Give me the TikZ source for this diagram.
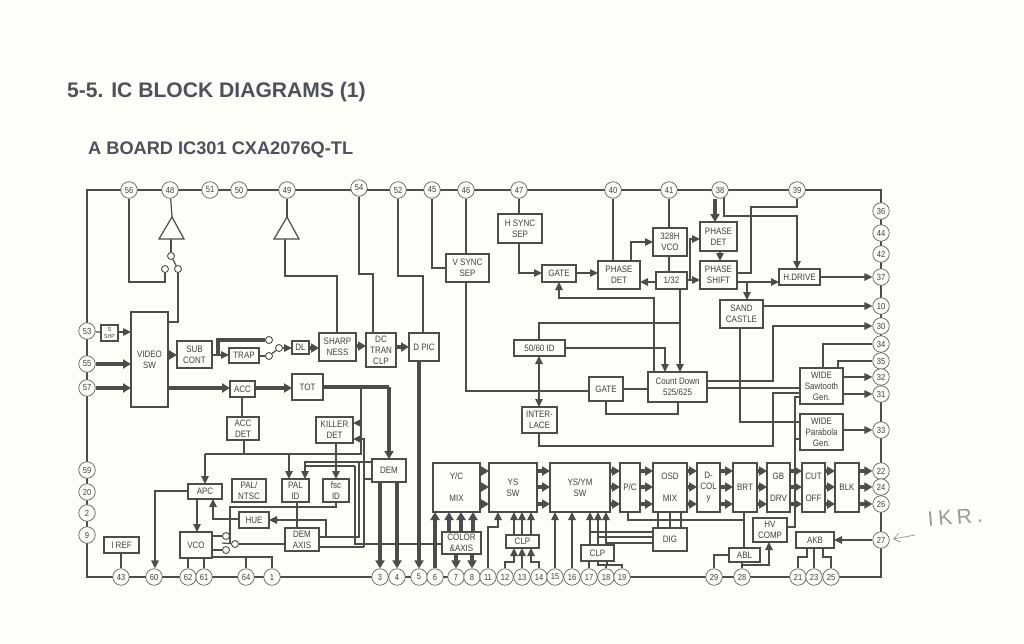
\documentclass[tikz,border=0pt]{standalone}
\usepackage{fontspec}
\usetikzlibrary{arrows.meta,backgrounds}
\setmainfont{Liberation Sans}
\newfontfamily\blkfont[FakeStretch=0.86]{Liberation Sans}
\newfontfamily\handfont[LetterSpace=22]{Liberation Sans}
\definecolor{ink}{HTML}{4C4C4C}
\definecolor{txt}{HTML}{404040}
\definecolor{paper}{HTML}{FDFEFA}
\definecolor{headc}{HTML}{50505A}
\tikzset{
 blk/.style={draw=ink,line width=1.2pt,fill=paper,text=txt,inner sep=0pt,outer sep=0pt,align=center,
   font=\blkfont\fontsize{9.3}{11}\selectfont},
 pinnode/.style={circle,draw=ink!90,line width=0.7pt,fill=paper,text=txt,inner sep=0pt,minimum size=16.5pt,
   font=\blkfont\fontsize{8.8}{10}\selectfont},
 swc/.style={circle,draw=ink,line width=0.9pt,fill=paper,inner sep=0pt,minimum size=7pt},
 wire/.style={draw=ink,line width=1.2pt},
 fatwire/.style={draw=ink,line width=3.2pt},
 arw/.style={wire,-{Triangle[length=8pt,width=7.5pt]}},
 fatarw/.style={fatwire,-{Triangle[length=8pt,width=9pt]}},
 amp/.style={draw=ink,line width=1.2pt,fill=paper},
 hand/.style={draw=gray!85,line width=0.7pt}
}
\newcommand{\blk}[6]{\node[blk,minimum width={(#4-#2)*1pt},minimum height={(#5-#3)*1pt}] (#1) at ({(#2+#4)/2},{(#3+#5)/2}) {#6};}
\newcommand{\pinn}[3]{\node[pinnode] (p#1) at (#2,#3) {#1};}
\begin{document}
\begin{tikzpicture}[x=1pt,y=-1pt]
\useasboundingbox (0,0) rectangle (1024,643);
% headings
\node[anchor=west,inner sep=0pt,text=headc,font=\fontsize{21.1}{24}\selectfont\bfseries] (title) at (67,92) {5-5. IC BLOCK DIAGRAMS (1)};
\node[anchor=west,inner sep=0pt,text=headc,font=\fontsize{18.2}{20}\selectfont\bfseries] (sub) at (88,150) {A BOARD IC301 CXA2076Q-TL};
% pins
\foreach \n/\x in {56/129,48/170,51/210,50/239,49/287,52/398,45/432,46/466,47/519,40/613,41/669,38/720,39/797}{\pinn{\n}{\x}{190}}
\pinn{54}{359}{188}
\foreach \n/\y in {36/211,44/233,42/254,37/277,10/306,30/326,34/344,35/361,32/377,31/394,33/430,22/471,24/487,26/504,27/540}{\pinn{\n}{881}{\y}}
\foreach \n/\y in {53/331,55/364,57/388,59/470,20/492,2/513,9/535}{\pinn{\n}{87}{\y}}
\foreach \n/\x in {43/121,60/154,62/188,61/204,64/246,1/272,3/380,4/397,5/419,6/435,7/456,8/472,11/488,12/505,13/522,14/539,15/555,16/572,17/589,18/606,19/622,29/714,28/742,21/798,23/814,25/831}{\pinn{\n}{\x}{577}}
% blocks
\node[blk,minimum width=17pt,minimum height=16pt,font=\blkfont\fontsize{6}{6.5}\selectfont] (sshp) at (109.5,333) {S\\SHP};
\blk{video}{131}{312}{168}{407}{VIDEO\\SW}
\blk{subc}{177}{341}{212}{368}{SUB\\CONT}
\blk{trap}{229}{348}{259}{363}{TRAP}
\blk{dl}{292}{341}{309}{354}{DL}
\blk{sharp}{319}{333}{356}{361}{SHARP\\NESS}
\blk{dctran}{366}{333}{396}{367}{DC\\TRAN\\CLP}
\blk{dpic}{409}{333}{439}{361}{D PIC}
\blk{acc}{230}{381}{255}{397}{ACC}
\blk{tot}{292}{374}{323}{400}{TOT}
\blk{accdet}{227}{417}{259}{440}{ACC\\DET}
\blk{killer}{316}{417}{353}{443}{KILLER\\DET}
\blk{dem}{372}{459}{406}{482}{DEM}
\blk{palntsc}{232}{479}{266}{502}{PAL/\\NTSC}
\blk{palid}{282}{479}{309}{502}{PAL\\ID}
\blk{fscid}{323}{479}{349}{502}{fsc\\ID}
\blk{apc}{188}{484}{222}{499}{APC}
\blk{hue}{239}{512}{269}{528}{HUE}
\blk{vco}{180}{532}{212}{558}{VCO}
\blk{demaxis}{285}{528}{319}{551}{DEM\\AXIS}
\blk{iref}{104}{537}{139}{553}{I REF}
\blk{vsync}{446}{254}{489}{282}{V SYNC\\SEP}
\blk{hsync}{498}{214}{542}{243}{H SYNC\\SEP}
\blk{gateu}{542}{265}{576}{282}{GATE}
\blk{pdeta}{598}{261}{640}{289}{PHASE\\DET}
\blk{hvco}{653}{228}{687}{256}{328H\\VCO}
\blk{div}{656}{272}{687}{289}{1/32}
\blk{id5060}{514}{340}{565}{356}{50/60 ID}
\blk{gatel}{589}{377}{623}{401}{GATE}
\blk{count}{648}{372}{707}{402}{Count Down\\525/625}
\blk{inter}{522}{407}{557}{433}{INTER-\\LACE}
\blk{pdetb}{700}{222}{737}{251}{PHASE\\DET}
\blk{pshift}{700}{261}{737}{289}{PHASE\\SHIFT}
\blk{hdrive}{779}{269}{820}{285}{H.DRIVE}
\blk{sand}{720}{300}{763}{328}{SAND\\CASTLE}
\blk{saw}{800}{368}{843}{404}{WIDE\\Sawtooth\\Gen.}
\blk{para}{800}{414}{843}{450}{WIDE\\Parabola\\Gen.}
\blk{ycmix}{433}{463}{480}{512}{Y/C\\[11pt]MIX}
\blk{yssw}{489}{463}{537}{512}{YS\\SW}
\blk{ysym}{550}{463}{610}{512}{YS/YM\\SW}
\blk{pc}{620}{463}{640}{512}{P/C}
\blk{osd}{653}{463}{687}{512}{OSD\\[11pt]MIX}
\blk{dcol}{697}{463}{720}{512}{D-\\COL\\y}
\blk{brt}{733}{463}{757}{512}{BRT}
\blk{gbdrv}{767}{463}{790}{512}{GB\\[11pt]DRV}
\blk{cut}{802}{463}{825}{512}{CUT\\[11pt]OFF}
\blk{blkk}{835}{463}{859}{512}{BLK}
\blk{color}{442}{532}{481}{554}{COLOR\\\&AXIS}
\blk{clpa}{506}{535}{539}{548}{CLP}
\blk{clpb}{581}{545}{614}{561}{CLP}
\blk{dig}{653}{528}{687}{551}{DIG}
\blk{hv}{753}{518}{787}{542}{HV\\COMP}
\blk{abl}{729}{548}{760}{562}{ABL}
\blk{akb}{796}{532}{834}{548}{AKB}
% switches
\node[swc] (sa) at (171,256) {};
\node[swc] (sb) at (165,269) {};
\node[swc] (sc) at (178,269) {};
\node[swc] (ta) at (269,340) {};
\node[swc] (tb) at (269,356) {};
\node[swc] (tc) at (279,348) {};
\node[swc] (va) at (226,536) {};
\node[swc] (vb) at (226,550) {};
\node[swc] (vc) at (235,544) {};
% amplifiers
\draw[amp] (172,217) -- (184,239) -- (159,239) -- cycle;
\draw[amp] (287,217) -- (299,239) -- (274,239) -- cycle;
\coordinate (ampa) at (172,217); \coordinate (ampab) at (171,239);
\coordinate (ampb) at (287,217); \coordinate (ampbb) at (285,239);
% handwriting
\node[text=gray!80,rotate=5,font=\handfont\fontsize{21}{24}\selectfont] (ikr) at (955,517) {IKR.};
\coordinate (ikrs) at (915,535); \coordinate (ikre) at (893,539);
\draw[hand,-{Straight Barb[length=6pt,width=9pt]}] (ikrs) -- (ikre);
\begin{scope}[on background layer]
\fill[paper] (0,0) rectangle (1024,643);
% frame
\draw[wire,line width=1.5pt] (p53 |- p56) -- (p36 |- p56) -- (p36 |- p1) -- (p53 |- p1) -- cycle;
% input side
\draw[wire] (p53) -- (sshp);
\draw[arw] (sshp.east |- 0,332) -- (video.west |- 0,332);
\draw[fatarw] (p55.east) -- (video.west |- p55);
\draw[fatarw] (p57.east) -- (video.west |- p57);
\draw[fatarw] (video.east |- 0,355) -- (subc.west |- 0,355);
\draw[fatarw] (video.east |- 0,388) -- (acc.west |- 0,388);
\draw[fatarw] (acc.east |- 0,388) -- (tot.west |- 0,388);
\draw[wire] (video.east |- 0,322) -| (sc);
\draw[wire] (sb) |- (129,282) -- (p56);
\draw[wire] (sa) -- (ampab);
\draw[wire] (sa) -- (sc);
\draw[wire] (ampa) -- (p48);
% sub cont / trap
\draw[arw] (subc.east |- 0,355) -- (trap.west |- 0,355);
\draw[fatwire] (218,355) -- (218,340) -- (ta);
\draw[wire] (trap.east |- tb) -- (tb);
\draw[wire] (tb) -- (tc);
\draw[arw] (tc) -- (dl.west |- tc);
\draw[fatarw] (dl.east |- 0,348) -- (sharp.west |- 0,348);
\draw[fatarw] (sharp.east |- 0,346) -- (dctran.west |- 0,346);
\draw[fatarw] (dctran.east |- 0,347) -- (dpic.west |- 0,347);
\draw[wire] (337,333) -- (337,276) -- (285,276) -- (ampbb);
\draw[wire] (ampb) -- (p49);
\draw[wire] (p54) |- (359,274) -- (373,274) -- (dctran.north -| 373,0);
\draw[wire] (p52) -- (398,276) -- (423,276) -- (dpic.north -| 423,0);
\draw[fatarw] (dpic.south -| p5) -- (p5.north);
% chroma left
\draw[wire] (acc.south -| 242,0) -- (accdet.north -| 242,0);
\draw[fatwire] (tot.east |- 0,387) -- (389,387);
\draw[fatarw] (389,387) -- (dem.north -| 389,0);
\draw[wire] (361,387) -- (361,454) -- (205,454);
\draw[arw] (205,454) -- (apc.north -| 205,0);
\draw[arw] (361,423) -- (killer.east |- 0,423);
\draw[wire] (accdet.south -| 244,0) -- (244,454);
\draw[arw] (289,454) -- (palid.north -| 289,0);
\draw[arw] (killer.south -| 336,0) -- (fscid.north -| 336,0);
\draw[arw] (364,547) -- (364,439) -- (killer.east |- 0,439);
\draw[wire] (demaxis.east |- 0,547) -- (364,547);
\draw[wire] (dem.west |- 0,479) -- (364,479);
\draw[wire] (355,466) -- (305,466);
\draw[wire] (355,466) -- (355,544) -- (color.west |- 0,544);
\draw[wire] (dem.west |- 0,462) -- (359,462) -- (359,537) -- (demaxis.east |- 0,537);
\draw[arw] (dem.west |- 0,462) -- (305,462) -- (palid.north -| 305,0);
\draw[arw] (326,537) -- (326,520) -- (hue.east |- 0,520);
\draw[wire] (palid.south -| 297,0) -- (demaxis.north -| 297,0);
\draw[fatarw] (dem.south -| p3) -- (p3.north);
\draw[fatarw] (dem.south -| p4) -- (p4.north);
\draw[arw] (apc.south -| 197,0) -- (vco.north -| 197,0);
\draw[arw] (apc.west |- 0,491) -- (155,491) -- (p60.north -| 155,0);
\draw[arw] (hue.west |- 0,519) -- (213,519) -- (apc.south -| 213,0);
\draw[wire] (fscid.south -| 336,0) -- (336,507) -- (230,507) -- (230,543);
\draw[wire] (222,543) -- (vc);
\draw[wire] (vc) -- (demaxis.west |- vc);
\draw[wire] (vco.east |- va) -- (va);
\draw[wire] (vco.east |- vb) -- (vb);
\draw[wire] (iref.south -| p43) -- (p43);
\draw[wire] (vco.south -| p62) -- (p62);
\draw[wire] (vco.south -| p61) -- (p61);
\draw[wire] (vco.east |- 0,557) -- (272,557) -- (p1);
\draw[wire] (p64 |- 0,557) -- (p64);
% sync
\draw[wire] (p45) -- (432,268) -- (vsync.west |- 0,268);
\draw[wire] (p46) -- (vsync.north -| p46);
\draw[wire] (vsync.south -| p46) -- (466,391) -- (gatel.west |- 0,391);
\draw[wire] (p47) -- (hsync.north -| p47);
\draw[arw] (hsync.south -| p47) -- (519,273) -- (gateu.west |- 0,273);
\draw[arw] (gateu.east |- 0,273) -- (pdeta.west |- 0,273);
\draw[wire] (p40) -- (pdeta.north -| p40);
\draw[arw] (pdeta.north -| 631,0) -- (631,242) -- (hvco.west |- 0,242);
\draw[wire] (p41) -- (hvco.north -| p41);
\draw[wire] (hvco.south -| p41) -- (div.north -| p41);
\draw[arw] (div.west |- 0,282) -- (pdeta.east |- 0,282);
\draw[arw] (div.east |- 0,280) -- (pshift.west |- 0,280);
\draw[arw] (690,280) -- (690,239) -- (pdetb.west |- 0,239);
\draw[arw] (div.south -| 680,0) -- (count.north -| 680,0);
\draw[wire] (680,323) -- (539,323) -- (id5060.north -| 539,0);
\draw[arw] (id5060.east |- 0,348) -- (665,348) -- (count.north -| 665,0);
\draw[arw] (count.north -| 654,0) -- (654,298) -- (559,298) -- (gateu.south -| 559,0);
\draw[wire] (gatel.east |- 0,389) -- (count.west |- 0,389);
\draw[wire] (gatel.south -| 606,0) -- (606,414) -- (678,414) -- (count.south -| 678,0);
\draw[wire,{Triangle[length=8pt,width=7.5pt]}-{Triangle[length=8pt,width=7.5pt]}] (id5060.south -| 539,0) -- (inter.north -| 539,0);
\draw[wire] (inter.south -| 539,0) -- (539,446) -- (773,446) -- (773,393) -- (saw.west |- 0,393);
\draw[arw] (count.east |- 0,381) -- (773,381) -- (773,326) -- (p30.west);
\draw[wire] (count.east |- 0,388) -- (saw.west |- 0,388);
% horizontal section
\draw[fatarw] (p38.south -| 715,0) -- (pdetb.north -| 715,0);
\draw[arw] (724,197) -- (724,216) -- (797,216) -- (hdrive.north -| 797,0);
\draw[wire] (p39) -- (797,207) -- (751,207) -- (751,273) -- (pshift.east |- 0,273);
\draw[arw] (pdetb.south -| 720,0) -- (pshift.north -| 720,0);
\draw[arw] (pshift.east |- 0,282) -- (hdrive.west |- 0,282);
\draw[arw] (747,282) -- (sand.north -| 747,0);
\draw[arw] (hdrive.east |- p37) -- (p37.west);
\draw[arw] (sand.east |- p10) -- (p10.west);
\draw[wire] (sand.south -| 740,0) -- (740,422) -- (para.west |- 0,422);
\draw[wire] (saw.north -| 823,0) -- (823,344) -- (p34);
\draw[wire] (saw.north -| 838,0) -- (838,361) -- (p35);
\draw[arw] (saw.east |- p32) -- (p32.west);
\draw[arw] (saw.east |- p31) -- (p31.west);
\draw[arw] (para.east |- p33) -- (p33.west);
\draw[wire] (hv.east |- 0,527) -- (795,527) -- (795,397) -- (saw.west |- 0,397);
\draw[wire] (795,439) -- (para.west |- 0,439);
% RGB chain
\foreach \y in {471,487,504}{
 \draw[fatarw] (ycmix.east |- 0,\y) -- (yssw.west |- 0,\y);
 \draw[fatarw] (yssw.east |- 0,\y) -- (ysym.west |- 0,\y);
 \draw[fatarw] (ysym.east |- 0,\y) -- (pc.west |- 0,\y);
 \draw[fatarw] (pc.east |- 0,\y) -- (osd.west |- 0,\y);
 \draw[fatarw] (osd.east |- 0,\y) -- (dcol.west |- 0,\y);
 \draw[fatarw] (dcol.east |- 0,\y) -- (brt.west |- 0,\y);
 \draw[fatarw] (brt.east |- 0,\y) -- (gbdrv.west |- 0,\y);
 \draw[fatarw] (gbdrv.east |- 0,\y) -- (cut.west |- 0,\y);
 \draw[fatarw] (cut.east |- 0,\y) -- (blkk.west |- 0,\y);
}
\draw[fatarw] (blkk.east |- p22) -- (p22.west);
\draw[fatarw] (blkk.east |- p24) -- (p24.west);
\draw[fatarw] (blkk.east |- p26) -- (p26.west);
% inputs under matrix
\draw[fatarw] (p6.north) -- (ycmix.south -| p6);
\foreach \x in {449,461,473}{\draw[fatarw] (color.north -| \x,0) -- (ycmix.south -| \x,0);}
\draw[fatarw] (color.south -| p7) -- (p7.north);
\draw[fatarw] (color.south -| p8) -- (p8.north);
\draw[arw] (p11) -- (488,527) -- (498,527) -- (yssw.south -| 498,0);
\foreach \x in {514,522,531}{\draw[arw] (clpa.north -| \x,0) -- (yssw.south -| \x,0);}
\draw[arw] (p12) -- (505,562) -- (514,562) -- (clpa.south -| 514,0);
\draw[arw] (p13) -- (clpa.south -| p13);
\draw[arw] (p14) -- (539,562) -- (531,562) -- (clpa.south -| 531,0);
\draw[arw] (p15) -- (ysym.south -| p15);
\draw[arw] (p16) -- (ysym.south -| p16);
\foreach \x in {590,598,606}{\draw[arw] (clpb.north -| \x,0) -- (ysym.south -| \x,0);}
\draw[wire] (590,532) -- (dig.west |- 0,532);
\draw[wire] (598,537) -- (dig.west |- 0,537);
\draw[wire] (606,543) -- (dig.west |- 0,543);
\draw[wire] (p17) -- (clpb.south -| p17);
\draw[wire] (p18) -- (606,565) -- (598,565) -- (clpb.south -| 598,0);
\draw[wire] (p19) -- (622,565) -- (607,565) -- (clpb.south -| 607,0);
\foreach \x in {658,670,681}{\draw[wire] (osd.south -| \x,0) -- (dig.north -| \x,0);}
\draw[wire] (pc.south -| 628,0) -- (628,520) -- (744,520);
\draw[wire] (brt.south -| 744,0) -- (abl.north -| 744,0);
\draw[wire] (abl.west |- 0,555) -- (714,555) -- (p29);
\draw[wire] (abl.south -| p28) -- (p28);
\draw[arw] (p28 |- 0,565) -- (769,565) -- (hv.south -| 769,0);
\draw[arw] (p27.west) -- (akb.east |- p27);
\draw[wire] (akb.south -| 807,0) -- (807,557) -- (798,557) -- (p21);
\draw[wire] (akb.south -| p23) -- (p23);
\draw[wire] (akb.south -| 823,0) -- (823,557) -- (831,557) -- (p25);
\end{scope}
\end{tikzpicture}
\end{document}
